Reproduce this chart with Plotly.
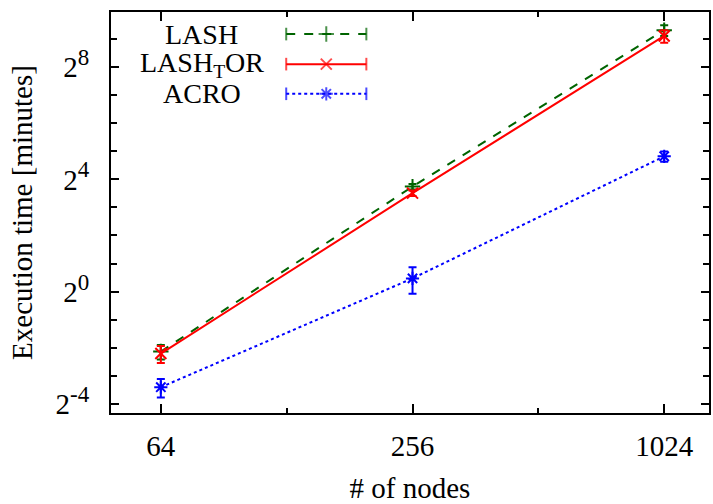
import plotly.graph_objects as go
import math

nodes = [64, 256, 1024]
lash = [0.227, 13.4, 640]
lash_err = [0.04, 0.9, 85]
lashtor = [0.216, 11.4, 555]
lashtor_err = [0.045, 0.8, 85]
acro = [0.094, 1.385, 28.3]
acro_err = [0.021, 0.44, 3.6]
y_exponents = [-4, 0, 4, 8]
x_labels = ["64", "256", "1024"]

series = [
    ("LASH", lash, lash_err, "#006400", "dash", "cross-thin"),
    ("LASH<sub>T</sub>OR", lashtor, lashtor_err, "#ff0000", "solid", "x-thin"),
    ("ACRO", acro, acro_err, "#0000ff", "dot", "asterisk-open"),
]

FONT = "Liberation Serif, Times New Roman, serif"
FS = 29
fig = go.Figure()
for name, ys, es, col, dash, sym in series:
    fig.add_trace(go.Scatter(
        x=nodes, y=ys, mode="lines+markers", name=name,
        line=dict(color=col, width=2, dash=dash),
        marker=dict(symbol=sym, size=11, color=col, line=dict(color=col, width=2)),
        error_y=dict(type="data", array=es, color=col, thickness=2, width=4),
        showlegend=False,
    ))

# custom gnuplot-style key (text left, sample right) on an overlay axis
key_y = [0.945, 0.870, 0.796]
for (name, ys, es, col, dash, sym), ky in zip(series, key_y):
    fig.add_trace(go.Scatter(
        x=[0.293, 0.36, 0.427], y=[ky, ky, ky], xaxis="x2", yaxis="y2",
        mode="lines+markers", showlegend=False, hoverinfo="skip",
        line=dict(color=col, width=2, dash=dash),
        marker=dict(symbol=["line-ns", sym, "line-ns"], size=[9, 11, 9], color=col,
                    line=dict(color=col, width=2)),
    ))
    fig.add_annotation(x=0.152, y=ky, xref="x2", yref="y2", text=name, showarrow=False,
                       xanchor="center", yanchor="middle", font=dict(size=28, color="black", family=FONT))

ymaj = [2.0 ** k for k in y_exponents]
ymaj_txt = ["2<sup><span style='font-size:23px'>%d</span></sup>" % k for k in y_exponents]
ymin = [2.0 ** k for k in range(-4, 10) if k % 4 != 0]
xmin = [128, 512]

fig.update_layout(
    width=713, height=504,
    margin=dict(l=111, r=2, t=12, b=91),
    paper_bgcolor="white", plot_bgcolor="white",
    font=dict(family=FONT, size=FS, color="black"),
    xaxis=dict(type="log", range=[math.log10(2 ** 5.604), math.log10(2 ** 10.356)],
               tickvals=nodes, ticktext=x_labels, ticks="inside", ticklen=9,
               tickwidth=1.5, tickcolor="black", ticklabelstandoff=6,
               minor=dict(tickvals=xmin, ticks="inside", ticklen=5, tickwidth=1.5, tickcolor="black"),
               showline=True, linecolor="black", linewidth=2, mirror="ticks",
               showgrid=False, zeroline=False,
               title=dict(text="# of nodes", standoff=18, font=dict(size=FS)),
               tickfont=dict(size=FS)),
    yaxis=dict(type="log", range=[math.log10(2 ** -4.33), math.log10(2 ** 9.97)],
               tickvals=ymaj, ticktext=ymaj_txt, ticks="inside", ticklen=8,
               tickwidth=1.5, tickcolor="black", ticklabelstandoff=14,
               minor=dict(tickvals=ymin, ticks="inside", ticklen=6, tickwidth=1.5, tickcolor="black"),
               showline=True, linecolor="black", linewidth=2, mirror="ticks",
               showgrid=False, zeroline=False,
               title=dict(text="Execution time [minutes]", standoff=14, font=dict(size=FS)),
               tickfont=dict(size=FS)),
    xaxis2=dict(range=[0, 1], overlaying="x", visible=False, fixedrange=True),
    yaxis2=dict(range=[0, 1], overlaying="y", visible=False, fixedrange=True),
)

fig.write_html("out.html")
